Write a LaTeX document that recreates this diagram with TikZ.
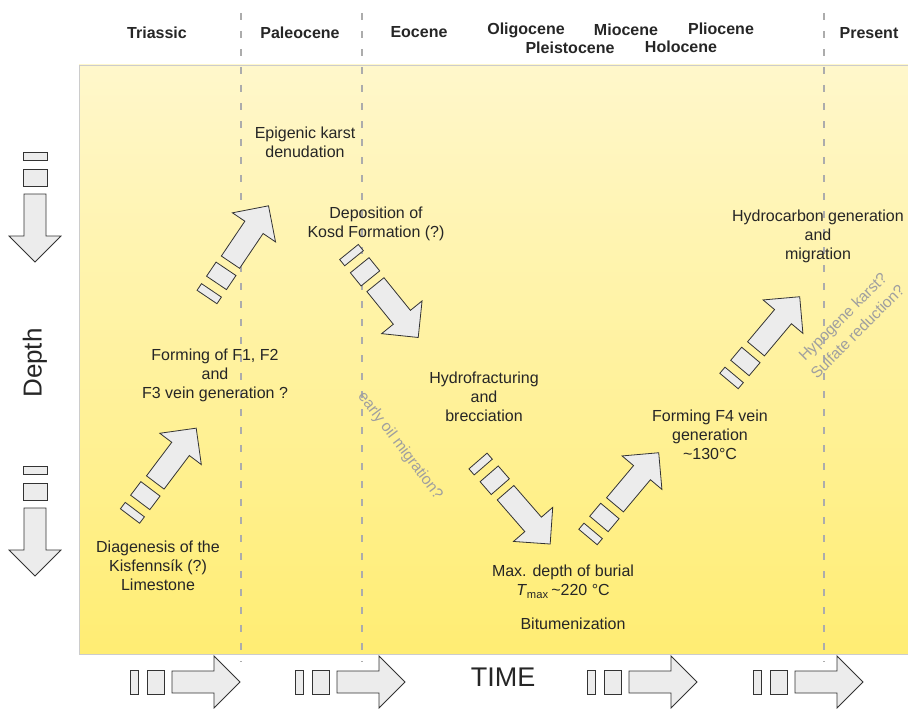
\documentclass[tikz,border=0pt]{standalone}
\usepackage{fontspec}
\setmainfont{Liberation Sans}
\definecolor{paneltop}{RGB}{255,247,203}
\definecolor{panelbottom}{RGB}{255,237,115}
\newcommand{\stagearrow}[3]{%
  \begin{scope}[shift={(#1,#2)},rotate=#3]
    \draw[blockarrow] (0,-12) rectangle (8,12);
    \draw[blockarrow] (17,-12) rectangle (34,12);
    \draw[blockarrow] (42,-11) -- (84,-11) -- (84,-26) -- (110,0) -- (84,26) -- (84,11) -- (42,11) -- cycle;
  \end{scope}}

\begin{document}
\begin{tikzpicture}[x=1pt,y=-1pt,
    epoch/.style={font=\fontsize{16}{19}\selectfont\bfseries, text=black!85},
    event/.style={align=center, font=\fontsize{16}{19}\selectfont, text=black!85},
    guess/.style={align=center, font=\fontsize{15.5}{21}\selectfont, text=gray!75},
    boundary/.style={gray!65, line width=1.6pt, dash pattern=on 7pt off 11pt},
    blockarrow/.style={draw=black!80, fill=gray!15, line width=0.8pt}]
   \useasboundingbox (0,0) rectangle (908,709);
   \shade[top color=paneltop, bottom color=panelbottom] (79,65) rectangle (908,654);
   \draw[gray!40, line width=0.8pt] (908,65) -- (79,65) -- (79,654) -- (908,654);
   \draw[boundary] (241,13) -- (241,662);
   \draw[boundary] (362,13) -- (362,662);
   \draw[boundary] (824,13) -- (824,662);
   \node[epoch] (triassic) at (157,33) {Triassic};
   \node[epoch] (paleocene) at (300,33) {Paleocene};
   \node[epoch] (eocene) at (419,32) {Eocene};
   \node[epoch] (oligocene) at (526,30) {Oligocene};
   \node[epoch] (miocene) at (626,30) {Miocene};
   \node[epoch] (pliocene) at (721,29) {Pliocene};
   \node[epoch] (pleistocene) at (570,48) {Pleistocene};
   \node[epoch] (holocene) at (681,47) {Holocene};
   \node[epoch] (present) at (869,33) {Present};
   \stagearrow{35}{152}{-90}
   \stagearrow{35}{466}{-90}
   \node[font=\fontsize{26}{30}\selectfont, text=black!85, rotate=90] (depth) at (35,363) {Depth};
   \stagearrow{130}{682}{0}
   \stagearrow{295}{682}{0}
   \stagearrow{587}{682}{0}
   \stagearrow{753}{682}{0}
   \node[font=\fontsize{27}{30}\selectfont, text=black!85] (time) at (503,677) {TIME};
   \stagearrow{130}{516}{53}
   \stagearrow{207}{297}{56}
   \stagearrow{349}{252}{-51}
   \stagearrow{478}{461}{-49}
   \stagearrow{588}{537}{50}
   \stagearrow{729}{381}{50}
   \node[event] (diagenesis) at (158,566) {Diagenesis of the\\Kisfennsík (?)\\Limestone};
   \node[event] (forming) at (215,375) {Forming of F1, F2\\and\\F3 vein generation ?};
   \node[event] (epigenic) at (305,142) {Epigenic karst\\denudation};
   \node[event] (kosd) at (376,224) {Deposition of\\Kosd Formation (?)};
   \node[event] (hydrofrac) at (484,397) {Hydrofracturing\\and\\brecciation};
   \node[event] (burial) at (563,582) {Max. depth of burial\\\textit{T}\textsubscript{max}\,\textasciitilde220 °C};
   \node[event] (bitumen) at (573,624) {Bitumenization};
   \node[event] (veinfour) at (710,435) {Forming F4 vein\\generation\\\textasciitilde130°C};
   \node[event] (hydrocarbon) at (818,236) {Hydrocarbon generation\\and\\migration};
   \node[guess, rotate=-53] (oil) at (400,446) {early oil migration?};
   \node[guess, rotate=45] (karst) at (850,324) {Hypogene karst?\\Sulfate reduction?};
\end{tikzpicture}
\end{document}
